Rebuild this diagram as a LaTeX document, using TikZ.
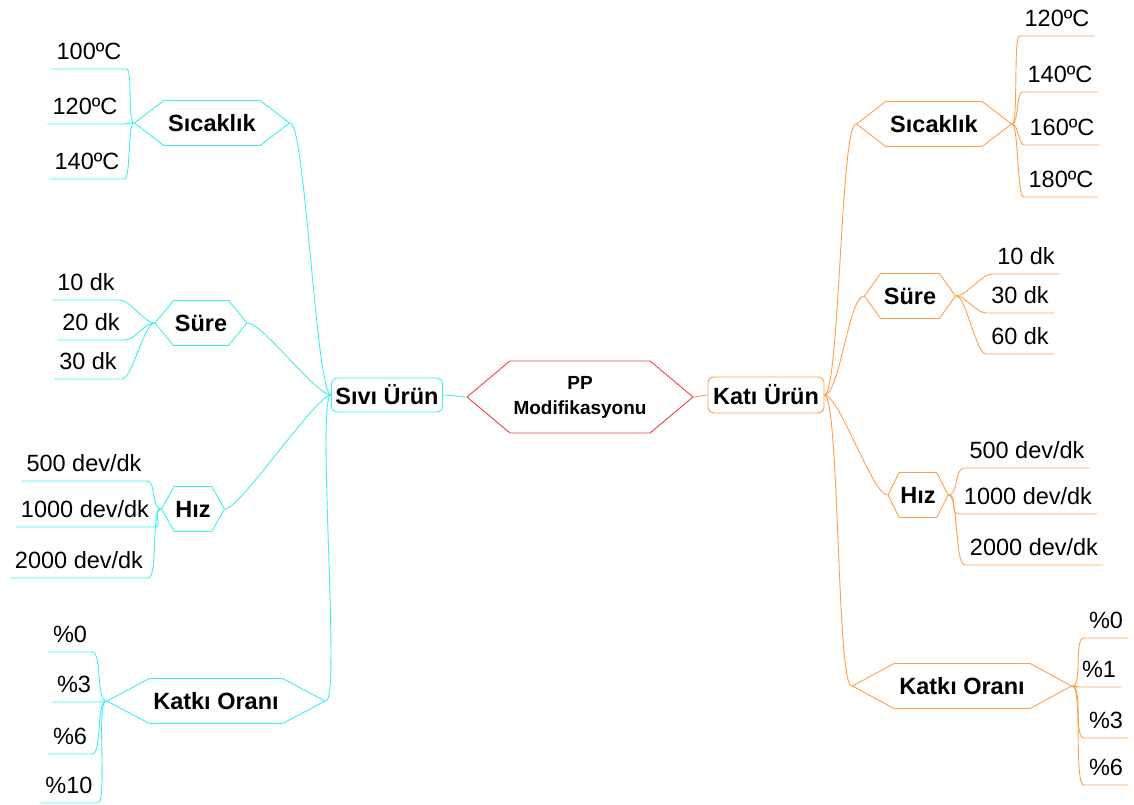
\documentclass[tikz,border=0pt]{standalone}
\usepackage{fontspec}
\setmainfont{Liberation Sans}
\usetikzlibrary{shapes.symbols}
\usepackage{xcolor}
\definecolor{sivi}{HTML}{3CF0F0}
\definecolor{kati}{HTML}{FFA04C}
\definecolor{kok}{HTML}{F04444}

\tikzset{
  dal/.style={signal, signal from=nowhere, signal to=west and east, draw, line width=0.9pt,
    fill=white, minimum height=45pt, inner sep=0pt, font=\fontsize{23.5}{25}\selectfont\bfseries},
  kutu/.style={draw, rounded corners=6pt, line width=0.9pt, inner sep=0pt,
    font=\fontsize{23.5}{25}\selectfont\bfseries},
  yaprak/.style={anchor=south, inner xsep=5pt, inner ysep=9pt, text depth=0pt,
    font=\fontsize{23.5}{25}\selectfont},
  bag/.style={line width=0.9pt},
}

\begin{document}
\begin{tikzpicture}[x=1pt,y=-1pt]
\useasboundingbox (0,0) rectangle (1134,805);
% merkez ve iki ana dal
\node (pp) [dal, draw=kok, minimum width=226pt, minimum height=72pt, signal pointer angle=80,
  align=center, font=\fontsize{19}{25}\selectfont\bfseries] at (580,397) {PP\\Modifikasyonu};
\node (sivi) [kutu, draw=sivi, minimum width=111pt, minimum height=34pt] at (387,395) {Sıvı Ürün};
\node (kati) [kutu, draw=kati, minimum width=116pt, minimum height=36pt] at (766,395) {Katı Ürün};
\draw [bag, sivi] (sivi.east) to[out=0,in=180,distance=8pt] (pp.west);
\draw [bag, kati] (pp.east) -- (kati.west);
%
% sol taraf: sivi urun
\node (sicL) [dal, draw=sivi, minimum width=155pt, signal pointer angle=75] at (212,123) {Sıcaklık};
\node (surL) [dal, draw=sivi, minimum width=92pt, signal pointer angle=101] at (201,323) {Süre};
\node (hizL) [dal, draw=sivi, minimum width=63pt, signal pointer angle=121] at (193,509) {Hız};
\node (katL) [dal, draw=sivi, minimum width=218pt, signal pointer angle=56] at (216,701) {Katkı Oranı};
\foreach \d in {sicL, surL, hizL, katL}
  \draw [bag, sivi] (sivi.west) to[out=180,in=0,distance=15pt] (\d.east);
%
\foreach \ad/\x/\y/\metin in {a1/89/69/100ºC, a2/85/124/120ºC, a3/87/179/140ºC}{
  \node (\ad) [yaprak] at (\x,\y) {\metin};
  \draw [bag, sivi] (\ad.south west) -- (\ad.south east) to[out=0,in=180,distance=6pt] (sicL.west);
}
\foreach \ad/\x/\y/\metin in {b1/86/300/10 dk, b2/91/340/20 dk, b3/88/379/30 dk}{
  \node (\ad) [yaprak] at (\x,\y) {\metin};
  \draw [bag, sivi] (\ad.south west) -- (\ad.south east) to[out=0,in=180,distance=10pt] (surL.west);
}
\foreach \ad/\x/\y/\metin in {c1/84/481/{500 dev/dk}, c2/85/527/{1000 dev/dk}, c3/79/578/{2000 dev/dk}}{
  \node (\ad) [yaprak] at (\x,\y) {\metin};
  \draw [bag, sivi] (\ad.south west) -- (\ad.south east) to[out=0,in=180,distance=10pt] (hizL.west);
}
\foreach \ad/\x/\y/\metin in {d1/70/652/\%0, d2/74/702/\%3, d3/70/754/\%6, d4/69/803/\%10}{
  \node (\ad) [yaprak] at (\x,\y) {\metin};
  \draw [bag, sivi] (\ad.south west) -- (\ad.south east) to[out=0,in=180,distance=10pt] (katL.west);
}
%
% sag taraf: kati urun
\node (sicR) [dal, draw=kati, minimum width=155pt, signal pointer angle=75] at (934,124) {Sıcaklık};
\node (surR) [dal, draw=kati, minimum width=91pt, signal pointer angle=109] at (910,296) {Süre};
\node (hizR) [dal, draw=kati, minimum width=60pt, signal pointer angle=127] at (918,495) {Hız};
\node (katR) [dal, draw=kati, minimum width=219pt, signal pointer angle=57] at (962,686) {Katkı Oranı};
\foreach \d in {sicR, surR, hizR, katR}
  \draw [bag, kati] (kati.east) to[out=0,in=180,distance=15pt] (\d.west);
%
\foreach \ad/\x/\y/\metin in {e1/1057/36/120ºC, e2/1060/92/140ºC, e3/1062/145/160ºC, e4/1061/197/180ºC}{
  \node (\ad) [yaprak] at (\x,\y) {\metin};
  \draw [bag, kati] (\ad.south east) -- (\ad.south west) to[out=180,in=0,distance=6pt] (sicR.east);
}
\foreach \ad/\x/\y/\metin in {f1/1026/274/10 dk, f2/1020/313/30 dk, f3/1020/354/60 dk}{
  \node (\ad) [yaprak] at (\x,\y) {\metin};
  \draw [bag, kati] (\ad.south east) -- (\ad.south west) to[out=180,in=0,distance=10pt] (surR.east);
}
\foreach \ad/\x/\y/\metin in {g1/1027/468/{500 dev/dk}, g2/1028/514/{1000 dev/dk}, g3/1034/565/{2000 dev/dk}}{
  \node (\ad) [yaprak] at (\x,\y) {\metin};
  \draw [bag, kati] (\ad.south east) -- (\ad.south west) to[out=180,in=0,distance=10pt] (hizR.east);
}
\foreach \ad/\x/\y/\metin in {h1/1106/638/\%0, h2/1099/687/\%1, h3/1106/738/\%3, h4/1106/785/\%6}{
  \node (\ad) [yaprak] at (\x,\y) {\metin};
  \draw [bag, kati] (\ad.south east) -- (\ad.south west) to[out=180,in=0,distance=10pt] (katR.east);
}
\end{tikzpicture}
\end{document}
